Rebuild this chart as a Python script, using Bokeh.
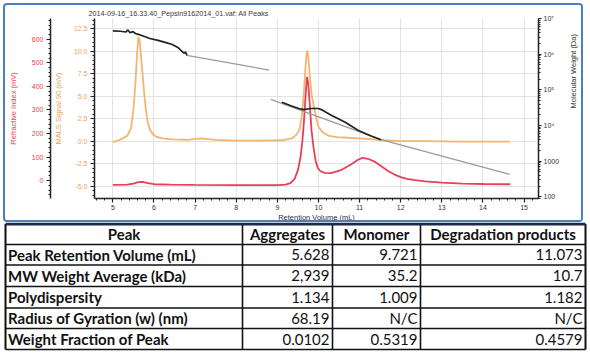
import numpy as np
from bokeh.plotting import figure
from bokeh.models import (Range1d, LinearAxis, LogAxis, LogScale, FixedTicker,
                          CustomJSTickFormatter, Axis, Plot)
from bokeh.layouts import column
from bokeh.embed import file_html
from bokeh.resources import INLINE
from bokeh.core.properties import value

# ---------------- data ----------------
chart_title = "2014-09-16_16.33.40_Pepsin9162014_01.vaf: All Peaks"
x_title = "Retention Volume (mL)"
ri_title = "Refractive Index (mV)"
mals_title = "MALS Signal 90 (mV)"
mw_title = "Molecular Weight (Da)"

x_ticks = [5, 6, 7, 8, 9, 10, 11, 12, 13, 14, 15]
mals_ticks = [-5.0, -2.5, 0.0, 2.5, 5.0, 7.5, 10.0, 12.5]
ri_ticks = [0, 100, 200, 300, 400, 500, 600]
mw_ticks = [100, 1000, 1e4, 1e5, 1e6, 1e7]

# MALS signal (orange)
mals_x = [5.0, 5.2, 5.35, 5.44, 5.5, 5.55, 5.59, 5.62, 5.65, 5.69, 5.74, 5.79, 5.84, 5.9,
          5.97, 6.05, 6.2, 6.45, 6.8, 7.15, 7.5, 8.0, 8.6, 9.1, 9.35, 9.46, 9.54, 9.6,
          9.65, 9.69, 9.72, 9.75, 9.79, 9.84, 9.9, 9.96, 10.0, 10.1, 10.25, 10.45, 10.8,
          11.2, 11.6, 12.0, 12.6, 13.5, 14.66]
mals_y = [-0.1, 0.2, 0.6, 1.4, 3.5, 6.5, 9.8, 11.6, 11.3, 9.2, 6.5, 4.0, 2.3, 1.3,
          0.8, 0.5, 0.3, 0.2, 0.15, 0.3, 0.15, 0.05, 0.05, 0.1, 0.3, 0.7, 1.3, 3.0,
          5.8, 8.6, 10.1, 9.6, 7.2, 5.0, 3.6, 2.3, 1.6, 1.0, 0.6, 0.45, 0.35,
          0.25, 0.1, 0.0, 0.0, -0.05, -0.05]

# Refractive index (red)
ri_x = [5.0, 5.35, 5.5, 5.62, 5.72, 5.85, 6.0, 6.4, 7.0, 8.0, 9.0, 9.2, 9.32, 9.42, 9.5,
        9.56, 9.61, 9.65, 9.69, 9.72, 9.75, 9.79, 9.83, 9.88, 9.93, 9.98, 10.05, 10.15,
        10.3, 10.55, 10.8, 10.95, 11.07, 11.2, 11.35, 11.52, 11.7, 11.85, 12.0, 12.15,
        12.35, 12.6, 13.0, 13.5, 14.0, 14.66]
ri_y = [-18, -17, -12, -6, -5, -10, -15, -17, -18, -19, -19, -17, -10, 8, 45,
        95, 170, 260, 370, 440, 415, 320, 215, 140, 85, 55, 40, 33,
        32, 45, 70, 88, 97, 93, 82, 62, 40, 26, 15, 8,
        2, -3, -8, -12, -14, -15]

# Molar mass (black) across the two peak regions
mw1_x = [5.0, 5.18, 5.32, 5.36, 5.42, 5.49, 5.55, 5.62, 5.72, 5.9, 6.1, 6.27, 6.43,
         6.58, 6.67, 6.73, 6.77, 6.8]
mw1_y = [4.5e6, 4.4e6, 4.2e6, 4.8e6, 4.0e6, 4.3e6, 3.8e6, 3.6e6, 3.3e6, 2.75e6, 2.45e6,
         2.15e6, 1.9e6, 1.55e6, 1.23e6, 1.07e6, 1.15e6, 9.3e5]
mw2_x = [9.11, 9.33, 9.52, 9.64, 9.81, 10.0, 10.1, 10.31, 10.65, 10.96, 11.28, 11.52]
mw2_y = [4.5e4, 3.6e4, 3.0e4, 2.8e4, 3.0e4, 3.0e4, 2.7e4, 1.95e4, 1.23e4, 7.4e3, 5.1e3, 4.0e3]

# Molar mass fits (grey)
fit1_x = [6.8, 8.8]
fit1_y = [9.3e5, 3.6e5]
fit2_x = [8.84, 11.52, 14.65]
fit2_y = [5.4e4, 4.0e3, 430]

# Table
table_header = ["Peak", "Aggregates", "Monomer", "Degradation products"]
row_labels = ["Peak Retention Volume (mL)", "MW Weight Average (kDa)", "Polydispersity",
              "Radius of Gyration (w) (nm)", "Weight Fraction of Peak"]
aggregates = ["5.628", "2,939", "1.134", "68.19", "0.0102"]
monomer = ["9.721", "35.2", "1.009", "N/C", "0.5319"]
degradation = ["11.073", "10.7", "1.182", "N/C", "0.4579"]

# ---------------- colours / fonts ----------------
ORANGE = "#f3b56f"
ORANGE_T = "#e9a55a"
RED = "#e8405a"
RED_T = "#e8404f"
CF = "Liberation Sans"

# ---------------- chart ----------------
p = figure(width=580, height=219, output_backend="svg", toolbar_location=None,
           title=chart_title,
           x_range=Range1d(4.554, 15.35), y_range=Range1d(-6.39, 13.67),
           min_border_left=89, min_border_right=43, min_border_top=13,
           min_border_bottom=24)
p.margin = (3, 0, 0, 3)
p.outline_line_color = None
p.background_fill_color = "white"
p.border_fill_color = "white"
p.styles = {"border": "2px solid #4a7fc1", "border-radius": "4px"}
if "frame_align" in Plot.properties():
    p.frame_align = False

p.title.text_font = CF
p.title.text_font_size = "7.2px"
p.title.text_font_style = "normal"
p.title.text_color = "#3a3a3a"
p.title.align = "left"
p.title.offset = -6
p.title.standoff = 1

p.extra_y_ranges = {"ri": Range1d(-75.5, 688), "mw": Range1d(90, 1.003e7)}
p.extra_y_scales = {"mw": LogScale()}


def style_axis(ax, label_color, title_color=None):
    ax.axis_line_color = "#222222"
    ax.axis_line_width = 1.5
    ax.major_tick_line_color = "#222222"
    ax.major_tick_line_width = 1.2
    ax.major_tick_out = 4
    ax.major_tick_in = 0
    ax.minor_tick_line_color = "#222222"
    ax.minor_tick_out = 2
    ax.minor_tick_in = 0
    ax.major_label_text_font = CF
    ax.major_label_text_font_size = "7px"
    ax.major_label_text_color = label_color
    ax.axis_label_text_font = CF
    ax.axis_label_text_font_size = "7.5px"
    ax.axis_label_text_font_style = "normal"
    ax.axis_label_text_color = title_color or label_color


# x axis
xa = p.xaxis[0]
xa.ticker = FixedTicker(ticks=x_ticks, minor_ticks=list(np.arange(4.6, 15.4, 0.2)))
xa.axis_label = x_title
style_axis(xa, "#333333")
xa.major_label_standoff = 2
xa.axis_label_standoff = 0

# MALS (orange) axis, the default left axis
ya = p.yaxis[0]
ya.ticker = FixedTicker(ticks=mals_ticks, minor_ticks=list(np.arange(-6.0, 13.6, 0.5)))
ya.formatter = CustomJSTickFormatter(code="return tick.toFixed(1);")
ya.axis_label = mals_title
style_axis(ya, ORANGE_T)
ya.major_label_standoff = 3
ya.axis_label_standoff = 8

# RI (red) axis
ri_axis = LinearAxis(y_range_name="ri", axis_label=ri_title,
                     ticker=FixedTicker(ticks=ri_ticks,
                                        minor_ticks=list(range(-60, 690, 20))))
style_axis(ri_axis, RED_T)
ri_axis.major_label_standoff = 3
ri_axis.axis_label_standoff = 11
p.add_layout(ri_axis, "left")

# MW (log) axis
mw_minor = [k * 10 ** e for e in range(1, 7) for k in range(2, 10)]
mw_axis = LogAxis(y_range_name="mw", axis_label=mw_title,
                  ticker=FixedTicker(ticks=mw_ticks, minor_ticks=mw_minor),
                  formatter=CustomJSTickFormatter(code="""
const e = Math.round(Math.log10(tick));
const sup = ["\u2070","\u00b9","\u00b2","\u00b3","\u2074","\u2075","\u2076","\u2077","\u2078","\u2079"];
if (e <= 3) { return String(Math.round(tick)); }
return "10" + sup[e];
"""))
style_axis(mw_axis, "#333333")
mw_axis.major_tick_out = 3
mw_axis.major_label_standoff = 2
mw_axis.axis_label_standoff = 11
if "axis_label_orientation" in Axis.properties():
    mw_axis.axis_label_orientation = np.pi / 2
p.add_layout(mw_axis, "right")

# grid
p.xgrid.grid_line_color = "#e3e3e3"
p.ygrid.grid_line_color = "#e3e3e3"

# curves
p.line(mals_x, mals_y, line_color=ORANGE, line_width=1.8)
p.line(ri_x, ri_y, line_color=RED, line_width=1.8, y_range_name="ri")
p.line(fit1_x, fit1_y, line_color="#9b9b9b", line_width=1.3, y_range_name="mw")
p.line(fit2_x, fit2_y, line_color="#9b9b9b", line_width=1.3, y_range_name="mw")
p.line(mw1_x, mw1_y, line_color="#222222", line_width=1.7, y_range_name="mw")
p.line(mw2_x, mw2_y, line_color="#222222", line_width=1.7, y_range_name="mw")

# ---------------- table ----------------
t = figure(width=588, height=132, output_backend="svg", toolbar_location=None,
           x_range=Range1d(0, 588), y_range=Range1d(358, 226),
           x_axis_type=None, y_axis_type=None, min_border=0)
t.outline_line_color = None
t.background_fill_color = "white"
t.border_fill_color = "white"
if "frame_align" in Plot.properties():
    t.frame_align = False

col_edges = [5, 242, 332, 420, 585]
row_edges = [227.5, 248, 268.5, 290, 311.5, 332, 353]
row_mid = [(a + b) / 2 for a, b in zip(row_edges[:-1], row_edges[1:])]

t.segment(x0=[col_edges[0]] * 6, y0=row_edges[1:], x1=[col_edges[-1]] * 6, y1=row_edges[1:],
          line_color="#111111", line_width=1.6)
t.segment(x0=col_edges, y0=[row_edges[0]] * 5, x1=col_edges, y1=[row_edges[-1]] * 5,
          line_color="#111111", line_width=[2, 1.6, 1.6, 1.6, 2])
t.segment(x0=[col_edges[0]], y0=[row_edges[0]], x1=[col_edges[-1]], y1=[row_edges[0]],
          line_color="#1b2a48", line_width=3)

TF = value("Lato")
FS = "15px"
hdr_x = [(a + b) / 2 for a, b in zip(col_edges[:-1], col_edges[1:])]
t.text(x=hdr_x, y=[row_mid[0]] * 4, text=table_header, text_font=TF,
       text_font_size=FS, text_font_style="bold", text_align="center",
       text_baseline="middle", text_color="#111111")
t.text(x=[col_edges[0] + 2.5] * 5, y=row_mid[1:], text=row_labels, text_font=TF,
       text_font_size=FS, text_font_style="bold", text_align="left",
       text_baseline="middle", text_color="#111111")
for ci, vals in enumerate([aggregates, monomer, degradation]):
    t.text(x=[col_edges[ci + 2] - 3] * 5, y=row_mid[1:], text=vals, text_font=TF,
           text_font_size=FS, text_align="right", text_baseline="middle",
           text_color="#111111")

layout = column(p, t, spacing=0)
open("out.html", "w").write(file_html(layout, INLINE))
